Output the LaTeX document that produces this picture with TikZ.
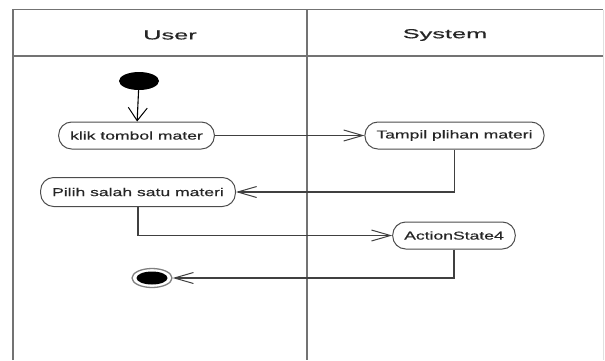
\documentclass[tikz,border=0pt]{standalone}
\usepackage{fontspec}
\setmainfont{Liberation Sans}[FakeBold=0.4]
\usepackage{graphicx}
\usetikzlibrary{arrows.meta,shapes.geometric,positioning}

% wide text, as in the stretched screenshot
\newcommand{\widetext}[2][1.54]{\scalebox{#1}[1]{#2}}

\begin{document}
\begin{tikzpicture}[x=1pt,y=-1pt,
  lane/.style={draw=black!55,line width=1.8pt},
  lanehead/.style={text=black!85,font=\fontsize{13}{15}\selectfont},
  action/.style={draw=black!70,line width=1pt,rounded corners=13pt,
    minimum height=27pt,inner xsep=11.5pt,inner ysep=0pt,text=black!85,
    font=\fontsize{11.4}{13}\selectfont},
  flow/.style={draw=black!75,line width=1.1pt,
    -{Straight Barb[length=19pt,width=11pt,line width=1pt]}},
  downflow/.style={draw=black,line width=1.1pt,
    -{Straight Barb[length=13pt,width=19pt,line width=1pt]}}]
\useasboundingbox (0,0) rectangle (605,360);

% Draw swimlanes
\draw[lane] (13,360) -- (13,9.5) -- (603,9.5);
\draw[lane] (13,56) -- (603,56);
\draw[lane] (307,9.5) -- (307,360);
\draw[draw=black!12,line width=1pt] (603,9.5) -- (603,360);
\node[lanehead] (user) at (170,35) {\widetext[1.95]{User}};
\node[lanehead] (system) at (445,35) {\widetext[1.95]{System}};

% Draw states
\node[ellipse,fill=black,inner sep=0pt,minimum width=40pt,minimum height=18pt] (start) at (139,81) {};
\node[action] (klik) at (136.5,135.5) {\widetext{klik tombol mater}};
\node[action] (tampil) at (454.5,135.5) {\widetext{Tampil plihan materi}};
\node[action,minimum height=29pt] (pilih) at (138,192) {\widetext{Pilih salah satu materi}};
\node[action] (aksi) at (454,235.5) {\widetext{ActionState4}};
\node[ellipse,draw=black!50,line width=1.3pt,fill=white,inner sep=0pt,
  minimum width=40pt,minimum height=19pt] (final) at (152,278) {};
\fill (final.center) ellipse (15.5pt and 6.5pt);

% Draw transitions
\draw[downflow] (start) -- (klik);
\draw[flow] (klik) -- (tampil);
\draw[flow] (tampil) |- (pilih);
\draw[flow] (pilih) |- (aksi);
\draw[flow] (aksi) |- (final);
\end{tikzpicture}
\end{document}
